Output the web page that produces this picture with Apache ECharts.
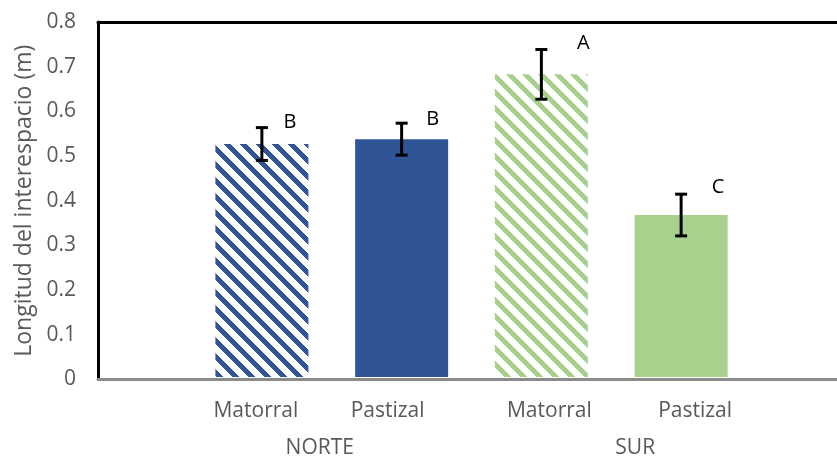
<!DOCTYPE html>
<html>
<head>
<meta charset="utf-8">
<script src="https://cdn.jsdelivr.net/npm/echarts@6/dist/echarts.min.js"></script>
<style>
  html, body { margin: 0; padding: 0; background: #fff; }
  #chart { width: 837px; height: 459px; }
</style>
</head>
<body>
<div id="chart"></div>
<script>
// Interspace length by site and vegetation type
const categories = ['Matorral', 'Pastizal', 'Matorral', 'Pastizal'];
const groups = ['NORTE', 'SUR'];
const means = [0.525, 0.536, 0.682, 0.365];
const errors = [0.037, 0.036, 0.056, 0.047];
const letters = ['B', 'B', 'A', 'C'];
const yMin = 0, yMax = 0.8, yStep = 0.1;

// Layout tweaks (pixels)
const catLabelShift = [-6, -14, 8, 14];
const groupLabelShift = [-12, 24];
const letterNudge = [[28, -5], [31, -4], [42, -6], [37, -7]];

const BLUE = '#2F5597';
const GREEN = '#A9D18E';
const TEXT = '#595959';
const FONT = 'Open Sans';

// Downward-diagonal hatch fill
function hatch(color) {
  const c = document.createElement('canvas');
  c.width = 16; c.height = 16;
  const ctx = c.getContext('2d');
  ctx.fillStyle = '#ffffff';
  ctx.fillRect(0, 0, 16, 16);
  ctx.fillStyle = color;
  for (let y = 0; y < 16; y++) {
    for (let x = 0; x < 16; x++) {
      if ((((x - y) % 16) + 16) % 16 < 7) ctx.fillRect(x, y, 1, 1);
    }
  }
  return { image: c, repeat: 'repeat' };
}

const fills = [hatch(BLUE), BLUE, hatch(GREEN), GREEN];

function shifted(label, d) {
  const pad = d < 0 ? [0, -2 * d, 0, 0] : [0, 0, 0, 2 * d];
  return { value: label, textStyle: { padding: pad } };
}

const chart = echarts.init(document.getElementById('chart'), null, { renderer: 'canvas' });

chart.setOption({
  animation: false,
  backgroundColor: '#ffffff',
  textStyle: { fontFamily: FONT },
  grid: [
    { left: 98, top: 22, right: -30, bottom: 79.5 },
    { left: 192, top: 22, width: 559, bottom: 79.5 }
  ],
  xAxis: [
    {
      gridIndex: 0, type: 'value', min: 0, max: 1, position: 'bottom', z: 5,
      axisLine: { show: true, lineStyle: { color: '#8c8c8c', width: 3 } },
      axisTick: { show: false }, axisLabel: { show: false }, splitLine: { show: false }
    },
    {
      gridIndex: 0, type: 'value', min: 0, max: 1, position: 'top', z: 5,
      axisLine: { show: true, lineStyle: { color: '#000000', width: 3 } },
      axisTick: { show: false }, axisLabel: { show: false }, splitLine: { show: false }
    },
    {
      gridIndex: 1, type: 'category', position: 'bottom',
      data: categories.map((c, i) => shifted(c, catLabelShift[i])),
      axisLine: { show: false }, axisTick: { show: false },
      axisLabel: { color: TEXT, fontSize: 21, fontFamily: FONT, margin: 24 }
    },
    {
      gridIndex: 1, type: 'category', position: 'bottom', offset: 37,
      data: groups.map((g, i) => shifted(g, groupLabelShift[i])),
      axisLine: { show: false }, axisTick: { show: false },
      axisLabel: { color: TEXT, fontSize: 21, fontFamily: FONT, margin: 24 }
    }
  ],
  yAxis: [
    {
      gridIndex: 0, type: 'value', min: yMin, max: yMax, interval: yStep, z: 5,
      name: 'Longitud del interespacio (m)', nameLocation: 'middle', nameRotate: 90, nameGap: 60,
      nameTextStyle: { color: TEXT, fontSize: 23, fontFamily: FONT },
      axisLine: { show: true, lineStyle: { color: '#000000', width: 3 } },
      axisTick: { show: false },
      axisLabel: {
        color: TEXT, fontSize: 21, fontFamily: FONT, margin: 22,
        formatter: v => (v === 0 ? '0' : v.toFixed(1))
      },
      splitLine: { show: false }
    },
    {
      gridIndex: 1, type: 'value', min: yMin, max: yMax, interval: yStep, show: false
    }
  ],
  series: [
    {
      type: 'bar', xAxisIndex: 2, yAxisIndex: 1, barWidth: 93,
      data: means.map((v, i) => ({ value: v, itemStyle: { color: fills[i] } }))
    },
    {
      type: 'custom', xAxisIndex: 2, yAxisIndex: 1, z: 10, clip: false,
      data: means.map((m, i) => [i, m - errors[i], m + errors[i]]),
      renderItem: function (params, api) {
        const i = api.value(0);
        const lo = api.coord([i, api.value(1)]);
        const hi = api.coord([i, api.value(2)]);
        const cap = 6;
        const ls = { stroke: '#000000', lineWidth: 3 };
        const n = letterNudge[params.dataIndex];
        return {
          type: 'group',
          children: [
            { type: 'line', shape: { x1: lo[0], y1: lo[1], x2: hi[0], y2: hi[1] }, style: ls },
            { type: 'line', shape: { x1: lo[0] - cap, y1: lo[1], x2: lo[0] + cap, y2: lo[1] }, style: ls },
            { type: 'line', shape: { x1: hi[0] - cap, y1: hi[1], x2: hi[0] + cap, y2: hi[1] }, style: ls },
            {
              type: 'text',
              style: {
                x: hi[0] + n[0], y: hi[1] + n[1],
                text: letters[params.dataIndex],
                fill: '#000000', fontSize: 20, fontFamily: FONT,
                align: 'center', verticalAlign: 'middle'
              }
            }
          ]
        };
      }
    }
  ]
});
</script>
</body>
</html>
